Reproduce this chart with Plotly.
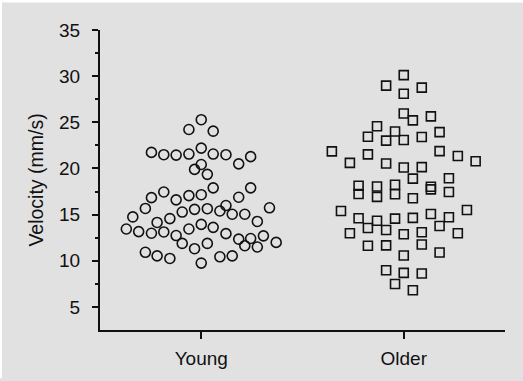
import plotly.graph_objects as go

categories = ["Young", "Older"]

# Young group: horizontal jitter offsets (category units) and velocities (mm/s)
young_offset = [0.000, -0.061, 0.059, -0.246, -0.185, -0.124, -0.061, 0.000, 0.059, 0.122,
                0.244, 0.000, 0.185, -0.033, 0.030, 0.059, 0.244, -0.185, -0.246, -0.124,
                -0.061, 0.000, 0.185, -0.276, 0.122, 0.337, -0.338, -0.094, -0.033, 0.030,
                0.092, 0.153, 0.215, -0.218, -0.155, 0.277, -0.370, -0.309, -0.246, -0.185,
                -0.061, 0.000, 0.059, -0.124, 0.122, 0.185, 0.244, 0.307, -0.094, 0.030,
                0.215, 0.277, 0.370, -0.033, -0.276, -0.218, -0.155, 0.092, 0.153, 0.000]
young_values = [25.28, 24.22, 24.04, 21.74, 21.49, 21.45, 21.56, 22.20, 21.56, 21.49,
                21.28, 20.43, 20.50, 19.90, 19.36, 17.90, 17.90, 17.45, 16.84, 16.60,
                17.06, 17.16, 16.88, 15.67, 15.99, 15.74, 14.75, 15.28, 15.57, 15.64,
                15.39, 15.04, 15.04, 14.15, 14.57, 14.26, 13.44, 13.16, 12.98, 13.12,
                13.44, 13.94, 13.62, 12.73, 12.94, 12.34, 12.41, 12.70, 11.88, 11.88,
                11.63, 11.49, 11.99, 11.31, 10.92, 10.53, 10.25, 10.43, 10.53, 9.75]

# Older group
older_offset = [0.000, -0.087, 0.089, 0.000, 0.000, 0.045, 0.134, -0.132, -0.043, -0.177,
                -0.087, 0.000, 0.089, 0.177, -0.355, -0.177, 0.177, 0.267, 0.355, -0.266,
                -0.087, 0.000, 0.089, 0.045, 0.223, -0.223, -0.132, -0.043, 0.134, -0.223,
                -0.132, -0.043, 0.045, 0.134, 0.223, -0.310, -0.223, -0.132, -0.043, 0.045,
                0.134, 0.223, 0.312, -0.177, -0.087, 0.177, -0.266, 0.000, 0.089, 0.267,
                -0.177, -0.087, 0.089, 0.000, 0.177, -0.087, 0.000, 0.089, -0.043, 0.045]
older_values = [30.11, 28.97, 28.76, 28.09, 25.96, 25.21, 25.64, 24.58, 24.01, 23.44,
                23.02, 23.09, 23.41, 23.94, 21.85, 21.53, 21.88, 21.35, 20.78, 20.60,
                20.53, 20.11, 20.14, 18.90, 18.94, 18.12, 18.05, 18.23, 18.02, 17.23,
                16.92, 17.20, 16.78, 17.73, 17.45, 15.39, 14.61, 14.33, 14.57, 14.65,
                15.07, 14.72, 15.50, 13.55, 13.34, 13.76, 12.98, 12.87, 13.09, 12.98,
                11.63, 11.67, 11.77, 10.57, 10.89, 8.97, 8.69, 8.62, 7.48, 6.81]

y_ticks = [5, 10, 15, 20, 25, 30, 35]
y_minor = [7.5, 12.5, 17.5, 22.5, 27.5, 32.5]

ink = "#111111"
bg = "#e1e1e1"

fig = go.Figure()
fig.add_trace(go.Scatter(
    x=[0 + o for o in young_offset], y=young_values, mode="markers",
    marker=dict(symbol="circle-open", size=10, color=ink, line=dict(width=1.6, color=ink)),
    showlegend=False, hoverinfo="skip"))
fig.add_trace(go.Scatter(
    x=[1 + o for o in older_offset], y=older_values, mode="markers",
    marker=dict(symbol="square-open", size=9, color=ink, line=dict(width=1.6, color=ink)),
    showlegend=False, hoverinfo="skip"))

L, R, T, B = 100, 18, 30, 46
W, H = 523, 381
pw, ph = W - L - R, H - T - B

# thin white strips along the top and left edges of the gray panel
fig.add_shape(type="rect", xref="paper", yref="paper", layer="above",
              x0=-L / pw - 0.01, x1=(W - L) / pw + 0.01,
              y0=(ph + T - 2) / ph, y1=(ph + T) / ph + 0.01,
              fillcolor="white", line=dict(width=0))
fig.add_shape(type="rect", xref="paper", yref="paper", layer="above",
              x0=-L / pw - 0.01, x1=(2 - L) / pw,
              y0=-B / ph - 0.01, y1=(ph + T) / ph + 0.01,
              fillcolor="white", line=dict(width=0))

fig.update_layout(
    width=W, height=H,
    margin=dict(l=L, r=R, t=T, b=B),
    paper_bgcolor=bg, plot_bgcolor=bg,
    font=dict(family="Liberation Sans, Arial, sans-serif", size=19, color=ink),
    xaxis=dict(range=[-0.5, 1.5], tickmode="array", tickvals=[0, 1], ticktext=categories,
               showgrid=False, zeroline=False, showline=True, linecolor=ink, linewidth=2.2,
               ticks="outside", ticklen=7, tickwidth=2.2, tickcolor=ink,
               ticklabelstandoff=3, tickfont=dict(size=19)),
    yaxis=dict(range=[2.5, 35], tickmode="array", tickvals=y_ticks,
               showgrid=False, zeroline=False, showline=True, linecolor=ink, linewidth=2.2,
               ticks="outside", ticklen=6, tickwidth=2.2, tickcolor=ink,
               minor=dict(tickvals=y_minor, ticks="outside",
                          ticklen=3, tickwidth=2.2, tickcolor=ink),
               ticklabelstandoff=8, tickfont=dict(size=19),
               title=dict(text="Velocity (mm/s)", standoff=10, font=dict(size=19.5))),
)

fig.write_html("out.html")
